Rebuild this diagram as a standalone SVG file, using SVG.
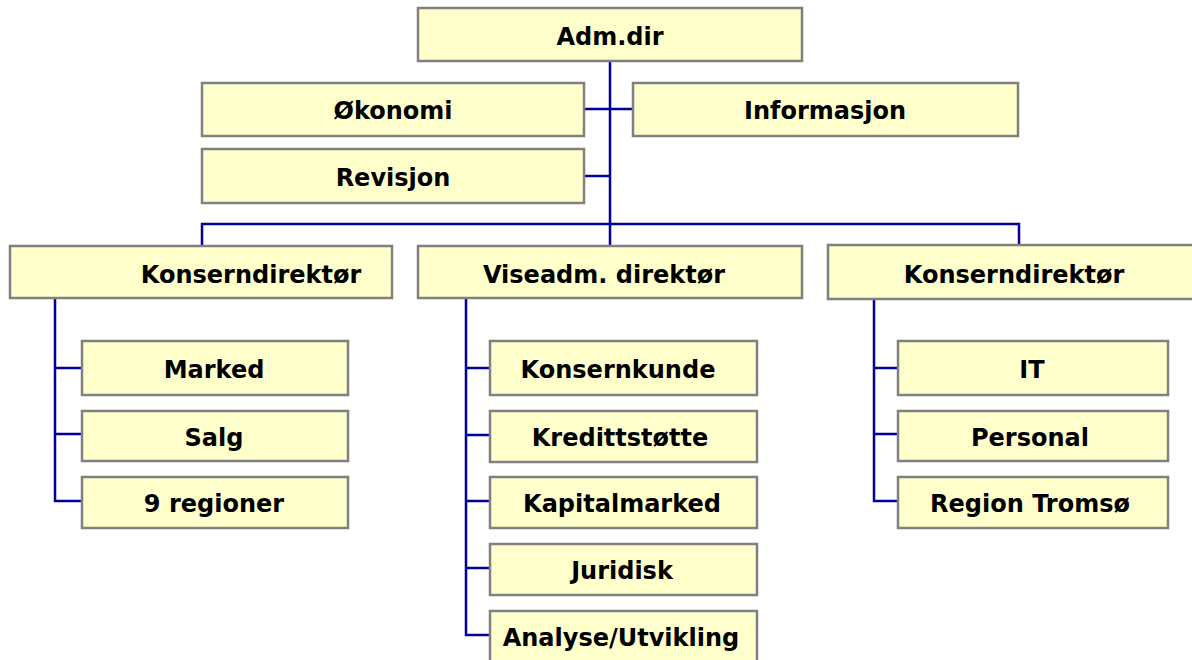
<svg xmlns="http://www.w3.org/2000/svg" width="1192" height="660" viewBox="0 0 1192 660">
<style>
.box{fill:#FFFFCC;stroke:#808080;stroke-width:2.5}
.lbl{font-family:"DejaVu Sans","Liberation Sans",sans-serif;font-weight:bold;font-size:24px;fill:#000;text-anchor:middle}
.con{fill:none;stroke:#000099;stroke-width:2.5}
</style>
<rect width="1192" height="660" fill="#fff"/>
<g id="connectors">
<path class="con" d="M610 61V224M202 246V224H1019V246M610 224V246"/>
<path class="con" d="M584 109H633M584 176H610"/>
<path class="con" d="M55 298V501H82M55 368H82M55 434H82"/>
<path class="con" d="M466 298V635H490M466 368H490M466 435H490M466 501H490M466 568H490"/>
<path class="con" d="M874 299V501H898M874 368H898M874 434H898"/>
</g>
<g id="admdir"><rect class="box" x="418" y="8" width="384" height="53"/><text class="lbl" x="610" y="45">Adm.dir</text></g>
<g id="okonomi"><rect class="box" x="202" y="83" width="382" height="53"/><text class="lbl" x="393" y="119">Økonomi</text></g>
<g id="informasjon"><rect class="box" x="633" y="83" width="385" height="53"/><text class="lbl" x="825" y="119">Informasjon</text></g>
<g id="revisjon"><rect class="box" x="202" y="149" width="382" height="54"/><text class="lbl" x="393" y="186">Revisjon</text></g>
<g id="konsern1"><rect class="box" x="10" y="246" width="382" height="52"/><text class="lbl" x="251" y="283">Konserndirektør</text></g>
<g id="viseadm"><rect class="box" x="418" y="246" width="384" height="52"/><text class="lbl" x="604" y="283">Viseadm. direktør</text></g>
<g id="konsern2"><rect class="box" x="828" y="245" width="382" height="54"/><text class="lbl" x="1014" y="283">Konserndirektør</text></g>
<g id="marked"><rect class="box" x="82" y="341" width="266" height="54"/><text class="lbl" x="214" y="378">Marked</text></g>
<g id="salg"><rect class="box" x="82" y="411" width="266" height="50"/><text class="lbl" x="214" y="446">Salg</text></g>
<g id="regioner"><rect class="box" x="82" y="477" width="266" height="51"/><text class="lbl" x="214" y="512">9 regioner</text></g>
<g id="konsernkunde"><rect class="box" x="490" y="341" width="267" height="54"/><text class="lbl" x="618" y="378">Konsernkunde</text></g>
<g id="kredittstotte"><rect class="box" x="490" y="411" width="267" height="51"/><text class="lbl" x="620" y="446">Kredittstøtte</text></g>
<g id="kapitalmarked"><rect class="box" x="490" y="477" width="267" height="51"/><text class="lbl" x="622" y="512">Kapitalmarked</text></g>
<g id="juridisk"><rect class="box" x="490" y="544" width="267" height="51"/><text class="lbl" x="622" y="579">Juridisk</text></g>
<g id="analyse"><rect class="box" x="490" y="611" width="267" height="54"/><text class="lbl" x="621" y="646">Analyse/Utvikling</text></g>
<g id="it"><rect class="box" x="898" y="341" width="270" height="54"/><text class="lbl" x="1032" y="378">IT</text></g>
<g id="personal"><rect class="box" x="898" y="411" width="270" height="50"/><text class="lbl" x="1030" y="446">Personal</text></g>
<g id="tromso"><rect class="box" x="898" y="477" width="270" height="51"/><text class="lbl" x="1030" y="512">Region Tromsø</text></g>
</svg>
